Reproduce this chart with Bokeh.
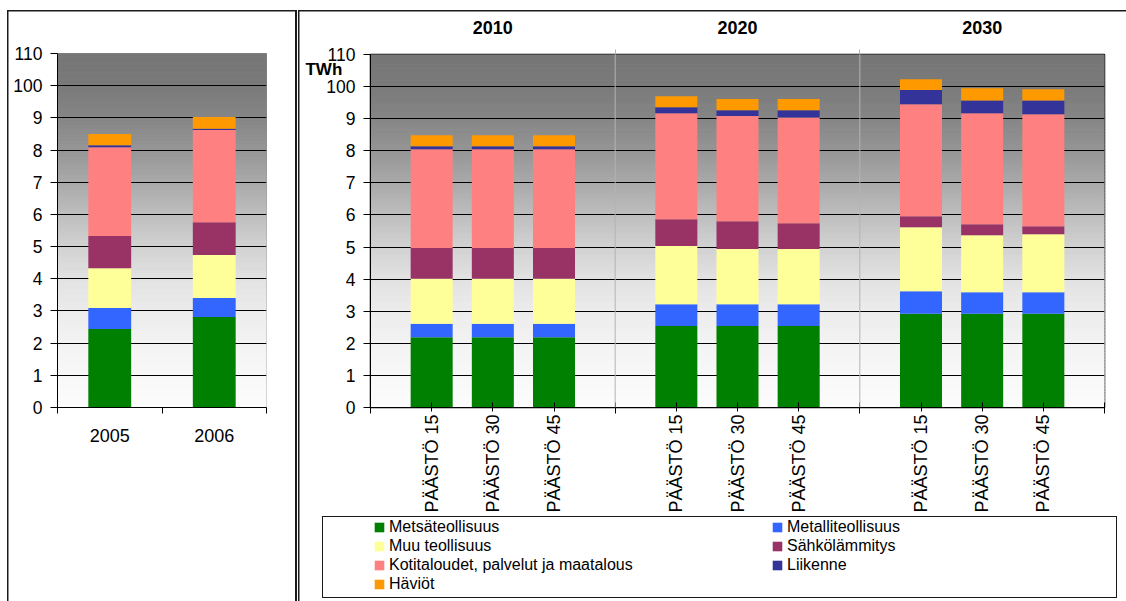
import math
import numpy as np
from bokeh.plotting import figure
from bokeh.layouts import row, column
from bokeh.models import (Range1d, FixedTicker, LinearAxis, Span, Legend, LegendItem,
                          ColumnDataSource)
from bokeh.embed import file_html
from bokeh.resources import INLINE

FONT = "Liberation Sans"

# Electricity consumption by sector, TWh
series = ["Metsäteollisuus", "Metalliteollisuus", "Muu teollisuus", "Sähkölämmitys",
          "Kotitaloudet, palvelut ja maatalous", "Liikenne", "Häviöt"]
colors = ["#008000", "#3366FF", "#FFFF99", "#993366", "#FF8080", "#333399", "#FF9900"]

# statistics
years = ["2005", "2006"]
hist_metsa = [24.4, 28.1]
hist_metalli = [6.5, 5.9]
hist_muu = [12.4, 13.4]
hist_sahkolammitys = [10.0, 10.2]
hist_kotitaloudet = [27.6, 28.6]
hist_liikenne = [0.6, 0.4]
hist_haviot = [3.5, 3.7]

# scenarios
groups = ["2010", "2020", "2030"]
scenarios = ["PÄÄSTÖ 15", "PÄÄSTÖ 30", "PÄÄSTÖ 45"]
scen_metsa = [21.9, 21.9, 21.9, 25.4, 25.4, 25.4, 29.2, 29.2, 29.2]
scen_metalli = [4.2, 4.2, 4.2, 6.8, 6.8, 6.8, 7.0, 6.7, 6.7]
scen_muu = [14.0, 14.0, 14.0, 18.1, 17.2, 17.2, 20.0, 17.8, 18.1]
scen_sahkolammitys = [9.6, 9.6, 9.6, 8.4, 8.6, 8.0, 3.4, 3.4, 2.5]
scen_kotitaloudet = [30.8, 30.8, 30.8, 33.0, 32.8, 33.0, 34.9, 34.6, 34.9]
scen_liikenne = [0.9, 0.9, 0.9, 1.9, 1.8, 2.2, 4.4, 4.0, 4.3]
scen_haviot = [3.4, 3.4, 3.4, 3.4, 3.5, 3.5, 3.4, 3.8, 3.5]

y_ticks = list(range(0, 111, 10))
y_tick_labels = ["0", "1", "2", "3", "4", "5", "6", "7", "8", "9", "100", "110"]

# background shading: grey at the top fading to white at the bottom
shade_levels = [0, 10, 20, 30, 40, 50, 60, 70, 80, 90, 100, 110]
shade_values = [252, 248, 243, 236, 226, 210, 190, 170, 150, 134, 122, 118]

keys = ["s%d" % i for i in range(len(series))]
EDGE = "#1a1a1a"


def add_background(p, x0, x1):
    mids = np.arange(0.5, 110, 1.0)
    g = np.interp(mids, shade_levels, shade_values).round().astype(int)
    cols = ["#%02x%02x%02x" % (v, v, v) for v in g]
    p.quad(left=x0, right=x1, bottom=mids - 0.5, top=mids + 0.5,
           fill_color=cols, line_color=cols, line_width=1, level="image")


def style_y(p):
    ax = p.yaxis[0]
    ax.ticker = FixedTicker(ticks=y_ticks, minor_ticks=[])
    ax.major_label_overrides = dict(zip(y_ticks, y_tick_labels))
    ax.major_tick_out = 7
    ax.major_tick_in = 0
    ax.minor_tick_out = 0
    ax.minor_tick_in = 0
    ax.major_label_standoff = 8
    ax.major_label_text_font = FONT
    ax.major_label_text_font_size = "17.5px"
    ax.major_label_text_color = "black"
    ax.axis_line_color = "black"
    ax.major_tick_line_color = "black"
    p.ygrid.ticker = FixedTicker(ticks=y_ticks[1:-1])
    p.ygrid.grid_line_color = "black"
    p.ygrid.grid_line_width = 1
    p.xgrid.grid_line_color = None


def lines_css(segments, color=EDGE):
    """Thin panel border lines painted behind the transparent canvas."""
    imgs = ", ".join("linear-gradient(%s, %s)" % (color, color) for _ in segments)
    pos = ", ".join("%gpx %gpx" % (x, y) for x, y, w, h in segments)
    size = ", ".join("%gpx %gpx" % (w, h) for x, y, w, h in segments)
    return (":host { background-image: %s; background-position: %s; "
            "background-size: %s; background-repeat: no-repeat; }" % (imgs, pos, size))


# ---------- left panel: statistics ----------
pl = figure(width=298, height=601, x_range=Range1d(-0.5, 1.5), y_range=Range1d(0, 110),
            toolbar_location=None, output_backend="svg", title=None,
            min_border_left=57, min_border_right=32, min_border_top=53, min_border_bottom=194,
            border_fill_color=None, outline_line_color="#8c8c8c", outline_line_width=1,
            stylesheets=[lines_css([(7, 10, 289, 1.5), (7, 10, 1.5, 600), (295, 10, 2, 600)])])
add_background(pl, -0.5, 1.5)
src_l = ColumnDataSource(dict(x=[0, 1], s0=hist_metsa, s1=hist_metalli, s2=hist_muu,
                              s3=hist_sahkolammitys, s4=hist_kotitaloudet,
                              s5=hist_liikenne, s6=hist_haviot))
pl.vbar_stack(keys, x="x", width=0.41, fill_color=colors, line_color=None, source=src_l)
style_y(pl)
xl = pl.xaxis[0]
xl.ticker = FixedTicker(ticks=[0, 1], minor_ticks=[-0.5, 0.5, 1.5])
xl.major_label_overrides = {0: years[0], 1: years[1]}
xl.major_tick_out = 0
xl.major_tick_in = 0
xl.minor_tick_out = 6
xl.minor_tick_in = 0
xl.major_label_standoff = 15
xl.major_label_text_font = FONT
xl.major_label_text_font_size = "18px"
xl.major_label_text_color = "black"
xl.axis_line_color = "black"
xl.minor_tick_line_color = "black"

# ---------- right panel: scenarios ----------
pr = figure(width=828, height=516, x_range=Range1d(0, 12), y_range=Range1d(0, 110),
            toolbar_location=None, output_backend="svg", title=None,
            min_border_left=72, min_border_right=22, min_border_top=54, min_border_bottom=109,
            border_fill_color=None, outline_line_color="black", outline_line_width=1.5,
            stylesheets=[lines_css([(1, 10, 827, 1.5), (0, 10, 1.5, 520)])])
add_background(pr, 0, 12)
xs = [g * 4 + s + 1 for g in range(len(groups)) for s in range(len(scenarios))]
src_r = ColumnDataSource(dict(x=xs, s0=scen_metsa, s1=scen_metalli, s2=scen_muu,
                              s3=scen_sahkolammitys, s4=scen_kotitaloudet,
                              s5=scen_liikenne, s6=scen_haviot))
pr.vbar_stack(keys, x="x", width=0.687, fill_color=colors, line_color=None, source=src_r)
style_y(pr)

# unit label at the top of the value axis, pushed down below the "110" tick label
yr = pr.yaxis[0]
yr.axis_label = "\nTWh"
yr.axis_label_text_font = FONT
yr.axis_label_text_font_size = "17px"
yr.axis_label_text_font_style = "bold"
yr.axis_label_text_color = "black"
yr.axis_label_text_line_height = 1.6
yr.axis_label_orientation = "horizontal"
yr.axis_label_standoff = -19
if "axis_label_align" in yr.properties():
    yr.axis_label_align = "end"

for loc in (4, 8):
    pr.add_layout(Span(location=loc, dimension="height", line_color="#b4b4b4", line_width=1))

xr = pr.xaxis[0]
xr.ticker = FixedTicker(ticks=xs, minor_ticks=[0, 4, 8, 12])
xr.major_label_overrides = {x: scenarios[i % 3] for i, x in enumerate(xs)}
xr.major_label_orientation = math.pi / 2
xr.major_tick_out = 4
xr.major_tick_in = 5
xr.minor_tick_out = 6
xr.minor_tick_in = 5
xr.major_label_standoff = 1
xr.major_label_text_font = FONT
xr.major_label_text_font_size = "18px"
xr.major_label_text_color = "black"
xr.axis_line_color = "black"
xr.major_tick_line_color = "black"
xr.minor_tick_line_color = "black"

top_ax = LinearAxis(ticker=FixedTicker(ticks=[2, 6, 10], minor_ticks=[4, 8]),
                    major_label_overrides={2: groups[0], 6: groups[1], 10: groups[2]})
top_ax.axis_line_color = None
top_ax.major_tick_out = 0
top_ax.major_tick_in = 0
top_ax.minor_tick_out = 5
top_ax.minor_tick_in = 0
top_ax.minor_tick_line_color = "#b4b4b4"
top_ax.major_label_standoff = 16
top_ax.major_label_text_font = FONT
top_ax.major_label_text_font_size = "18px"
top_ax.major_label_text_font_style = "bold"
top_ax.major_label_text_color = "black"
pr.add_layout(top_ax, "above")

# ---------- legend under the scenario chart ----------
# its frame lines up with the chart above; the box around it is drawn as panel lines
pg = figure(width=828, height=85, x_range=Range1d(0, 1), y_range=Range1d(0, 1),
            toolbar_location=None, output_backend="svg", title=None,
            x_axis_location=None, y_axis_location=None,
            min_border_left=72, min_border_right=22, min_border_top=0, min_border_bottom=0,
            border_fill_color=None, background_fill_color=None, outline_line_color=None,
            stylesheets=[lines_css([(0, 0, 1.5, 85), (24, 0, 795, 1), (24, 81, 795, 1),
                                    (24, 0, 1, 82), (818, 0, 1, 82)])])
pg.xgrid.grid_line_color = None
pg.ygrid.grid_line_color = None
swatches = pg.vbar_stack(keys, x="x", width=0.687, fill_color=colors, line_color=None,
                         source=src_r, visible=False)
items = [LegendItem(label=series[i], renderers=[swatches[i]]) for i in range(len(series))]

# two columns, filled row by row; one legend entry per slot for a tight row pitch
col_x = [3, 401]
row_y = [64.6, 45.6, 26.6, 7.6]
for i, item in enumerate(items):
    r, c = divmod(i, 2)
    pg.add_layout(Legend(items=[item], location=(col_x[c], row_y[r]), orientation="vertical",
                         glyph_width=12, glyph_height=12, label_standoff=4, label_height=12,
                         padding=0, margin=0, spacing=0, border_line_color=None,
                         background_fill_alpha=0, label_text_font=FONT,
                         label_text_font_size="16px", label_text_color="black"))

layout = row(pl, column(pr, pg))
open("out.html", "w").write(file_html(layout, INLINE))
